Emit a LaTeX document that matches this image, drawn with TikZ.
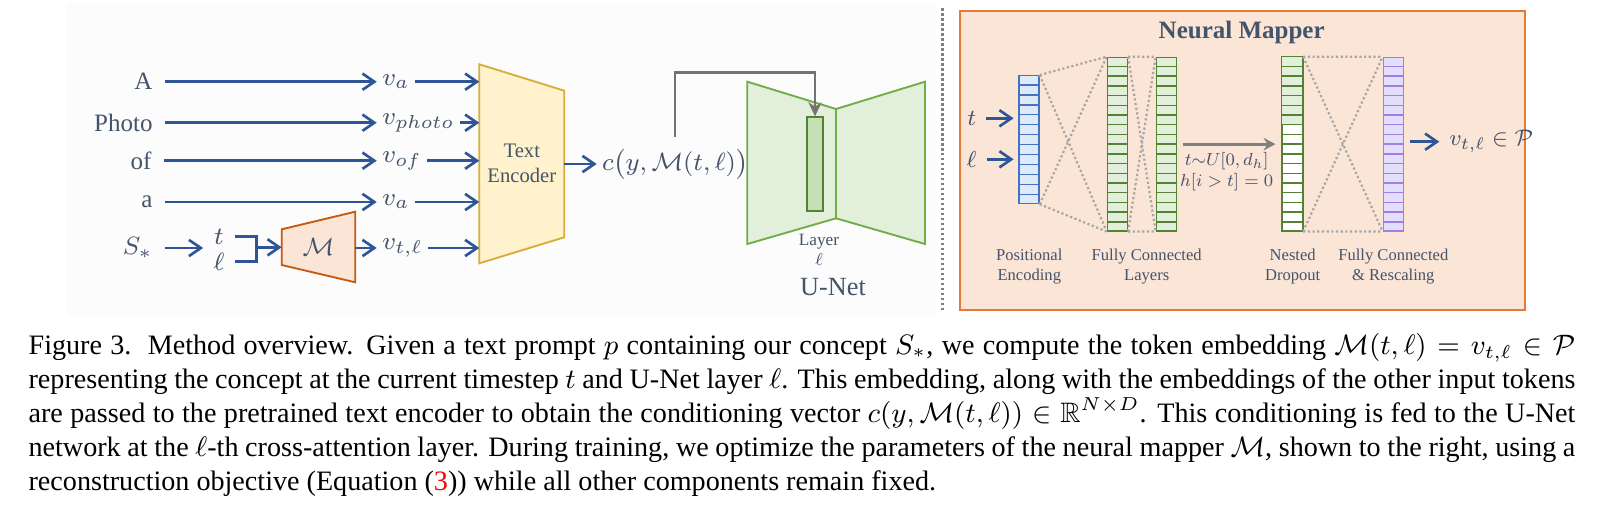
\documentclass[tikz,border=0pt]{standalone}
\usepackage{amssymb}
\usepackage{amsmath}
\usepackage{fontspec}
\setmainfont{Liberation Serif}
\usepackage{tikz}
\usetikzlibrary{arrows.meta,calc,positioning}

\definecolor{txtc}{HTML}{44546A}
\definecolor{bgpanel}{HTML}{FCFCFC}
\definecolor{arrblue}{HTML}{2F5597}
\definecolor{arrgray}{HTML}{767171}
\definecolor{arrgray2}{HTML}{808080}
\definecolor{dotgray}{HTML}{A6A6A6}
\definecolor{encfill}{HTML}{FFF2CC}
\definecolor{encdraw}{HTML}{D6AE3C}
\definecolor{mfill}{HTML}{FBE5D6}
\definecolor{mdraw}{HTML}{C55A11}
\definecolor{unetfill}{HTML}{E2EFDA}
\definecolor{unetdraw}{HTML}{70AD47}
\definecolor{layerfill}{HTML}{C5E0B4}
\definecolor{fcdraw}{HTML}{548235}
\definecolor{mapdraw}{HTML}{E07B39}
\definecolor{pefill}{HTML}{DEEBF7}
\definecolor{pedraw}{HTML}{4472C4}
\definecolor{purfill}{HTML}{E3DEFC}
\definecolor{purdraw}{HTML}{A47DE3}

% horizontal cell lines inside a column node
\newcommand{\cellrows}[3]{%
  \foreach \k in {1,...,#2}{%
    \draw[#3,line width=0.45pt] ($(#1.north west)!\k/(#2+1)!(#1.south west)$) -- ($(#1.north east)!\k/(#2+1)!(#1.south east)$);}}

\begin{document}
\begin{tikzpicture}[x=0.32pt,y=-0.32pt,
  every node/.style={text=txtc},
  tok/.style={anchor=east, inner xsep=3.8pt, font=\fontsize{8}{9.6}\selectfont},
  vlab/.style={anchor=west, inner xsep=1.6pt, font=\fontsize{8}{9.6}\selectfont},
  mth/.style={font=\fontsize{8}{9.6}\selectfont},
  blarr/.style={draw=arrblue, line width=0.85pt, -{Straight Barb[length=3.8pt,width=5.2pt]}},
  blline/.style={draw=arrblue, line width=0.85pt},
  grarr/.style={draw=arrgray, line width=0.9pt, -{Stealth[length=4.5pt,width=4.2pt]}},
  dots/.style={draw=dotgray, line width=0.7pt, dash pattern=on 0.7pt off 0.8pt},
  col/.style={draw, line width=0.45pt, minimum width=6.4pt, inner sep=0pt, anchor=north west},
  lbl/.style={align=center, font=\fontsize{5.3}{6.4}\selectfont}
]
\useasboundingbox (0,0) rectangle (1598,514);
\fill[bgpanel] (67,3) rectangle (936,316);

% tokens of the prompt
\node[tok] (tA) at (165,81.7) {A};
\node[tok] (tPhoto) at (165,122.7) {Photo};
\node[tok] (tOf) at (164,160.7) {of};
\node[tok] (ta) at (165,202) {a};
\node[tok] (tS) at (165,248) {$S_*$};

\node[vlab] (va) at (376.7,81.7) {$v_a$};
\node[vlab] (vphoto) at (376.7,122.7) {$v_{photo}$};
\node[vlab] (vof) at (376.7,160.7) {$v_{of}$};
\node[vlab] (va2) at (376.7,202) {$v_a$};
\node[vlab] (vtl) at (376.7,248) {$v_{t,\ell}$};

\draw[blarr] (tA.east) -- (va.west);
\draw[blarr] (tPhoto.east) -- (vphoto.west);
\draw[blarr] (tOf.east) -- (vof.west);
\draw[blarr] (ta.east) -- (va2.west);

% mapper on the left
\node[mth] (tin) at (219,236.7) {$t$};
\node[mth] (lin) at (219,261.7) {$\ell$};
\coordinate (brk) at (256.7,247.3);
\coordinate (mTL) at (281.7,229.3);
\coordinate (mTR) at (355.3,211.7);
\coordinate (mBR) at (355.3,282.3);
\coordinate (mBL) at (281.7,265);
\draw[fill=mfill,draw=mdraw,line width=0.6pt] (mTL) -- (mTR) -- (mBR) -- (mBL) -- cycle;
\node[mth] (mtxt) at (318.5,247) {$\mathcal{M}$};
\draw[blarr] (tS.east) -- (tS.east -| tin.west);
\draw[blline] (tin.east) -| (brk) |- (lin.east);
\draw[blarr] (brk) -- (brk -| mTL);
\draw[blarr] (vtl.west -| mTR) -- (vtl.west);

% text encoder
\coordinate (encTL) at (479.3,64.3);
\coordinate (encTR) at (564.3,90.7);
\coordinate (encBR) at (564.3,237.3);
\coordinate (encBL) at (479.3,263.3);
\draw[fill=encfill,draw=encdraw,line width=0.6pt] (encTL) -- (encTR) -- (encBR) -- (encBL) -- cycle;
\node[align=center, font=\fontsize{6.6}{8}\selectfont] (enc) at (521.8,163.7) {Text\\Encoder};
\draw[blarr] (va.east) -- (va.east -| encTL);
\draw[blarr] (vphoto.east) -- (vphoto.east -| encTL);
\draw[blarr] (vof.east) -- (vof.east -| encTL);
\draw[blarr] (va2.east) -- (va2.east -| encTL);
\draw[blarr] (vtl.east) -- (vtl.east -| encTL);

% U-Net
\draw[fill=unetfill,draw=unetdraw,line width=0.6pt] (747.3,81.7) -- (836,109) -- (836,218.3) -- (747.3,244) -- cycle;
\draw[fill=unetfill,draw=unetdraw,line width=0.6pt] (836,109) -- (925,81.7) -- (925,244) -- (836,218.3) -- cycle;
\node[draw=fcdraw, fill=layerfill, line width=0.6pt, minimum width=4.9pt, minimum height=29.9pt, inner sep=0pt] (layer) at (815,164) {};
\node[align=center, font=\fontsize{8}{9.3}\selectfont, scale=0.69] (layerlbl) at (819,250) {Layer\\$\ell$};
\node[font=\fontsize{8.4}{10}\selectfont] (unet) at (833,287) {U-Net};

\node[anchor=west, inner sep=1.5pt, font=\fontsize{8}{10}\selectfont] (cn) at (596.7,164) {$c\bigl(y,\mathcal{M}(t,\ell)\bigr)$};
\draw[blarr] (cn.west -| encTR) -- (cn.west);
\coordinate (ctap) at (675,136.7);
\draw[grarr] (ctap) -- ++(0,-64) -| (layer.north);

% separator
\draw[draw=arrgray2, line width=0.9pt, dash pattern=on 0.8pt off 0.8pt] (942.7,8) -- (942.7,312);

% neural mapper
\draw[fill=mfill, draw=mapdraw, line width=0.6pt] (960,11) rectangle (1525,310);
\node[font=\bfseries\fontsize{8}{9.6}\selectfont] (title) at (1241.7,32.3) {Neural Mapper};

\node[col, draw=pedraw, fill=pefill, minimum height=40.9pt] (pe) at (1018.3,75) {};
\cellrows{pe}{12}{pedraw}
\node[col, draw=fcdraw, fill=unetfill, minimum height=55.5pt] (fcA) at (1106.7,56.7) {};
\cellrows{fcA}{17}{fcdraw}
\node[col, draw=fcdraw, fill=unetfill, minimum height=55.5pt] (fcB) at (1155.7,56.7) {};
\cellrows{fcB}{17}{fcdraw}
\node[col, draw=fcdraw, fill=white, minimum height=55.5pt] (nd) at (1281.7,56.7) {};
\fill[unetfill] (nd.north west) rectangle ($(nd.north east)!7/18!(nd.south east)$);
\draw[fcdraw, line width=0.45pt] (nd.north west) rectangle (nd.south east);
\cellrows{nd}{17}{fcdraw}
\node[col, draw=purdraw, fill=purfill, minimum height=55.5pt] (fcr) at (1382.7,56.7) {};
\cellrows{fcr}{17}{purdraw}

\draw[dots] (pe.north east) -- (fcA.north west) (pe.south east) -- (fcA.south west)
  (pe.north east) -- (fcA.south west) (pe.south east) -- (fcA.north west);
\draw[dots] (fcA.north east) -- (fcB.north west) (fcA.south east) -- (fcB.south west)
  (fcA.north east) -- (fcB.south west) (fcA.south east) -- (fcB.north west);
\draw[dots] (nd.north east) -- (fcr.north west) (nd.south east) -- (fcr.south west)
  (nd.north east) -- (fcr.south west) (nd.south east) -- (fcr.north west);

\node[font=\fontsize{8}{9.6}\selectfont, scale=0.92] (tm) at (971.7,118.3) {$t$};
\node[font=\fontsize{8}{9.6}\selectfont, scale=0.92] (lm) at (971.7,159.3) {$\ell$};
\draw[blarr, shorten >=1.5pt] (tm.east) -- (tm.east -| pe.west);
\draw[blarr, shorten >=1.5pt] (lm.east) -- (lm.east -| pe.west);

\draw[draw=arrgray2, line width=0.9pt, -{Stealth[length=3.8pt,width=4pt]}, shorten <=2pt, shorten >=2pt] (fcB.east) -- (nd.west);
\node[align=center, font=\fontsize{8}{9.7}\selectfont, scale=0.7] (drop) at (1226.7,171.7) {$t{\sim}U[0,d_h]$\\$h[i>t]=0$};

\node[anchor=west, font=\fontsize{8}{9.6}\selectfont, scale=0.9] (vout) at (1439.3,141.7) {$v_{t,\ell}\in\mathcal{P}$};
\draw[blarr, shorten <=2pt] (vout.west -| fcr.east) -- (vout.west);

\node[lbl] (lpe) at (1029.3,266.7) {Positional\\Encoding};
\node[lbl] (lfc) at (1146.7,266.7) {Fully Connected\\Layers};
\node[lbl] (lnd) at (1292.7,266.7) {Nested\\Dropout};
\node[lbl] (lfcr) at (1393.3,266.7) {Fully Connected\\\& Rescaling};

% caption
\node[anchor=north west, text width=495pt, align=justify, inner sep=0pt, text=black,
  font=\fontsize{9}{10.9}\selectfont] (cap) at (28,333) {Figure 3.\ \ Method overview. Given a text prompt $p$ containing our concept $S_*$, we compute the token embedding $\mathcal{M}(t,\ell)=v_{t,\ell}\in\mathcal{P}$\linebreak
representing the concept at the current timestep $t$ and U-Net layer $\ell$. This embedding, along with the embeddings of the other input tokens\linebreak
are passed to the pretrained text encoder to obtain the conditioning vector $c(y,\mathcal{M}(t,\ell))\in\mathbb{R}^{N\times D}$. This conditioning is fed to the U-Net\linebreak
network at the $\ell$-th cross-attention layer. During training, we optimize the parameters of the neural mapper $\mathcal{M}$, shown to the right, using a\linebreak
reconstruction objective (Equation (\textcolor{red}{3})) while all other components remain fixed.};
\end{tikzpicture}
\end{document}
